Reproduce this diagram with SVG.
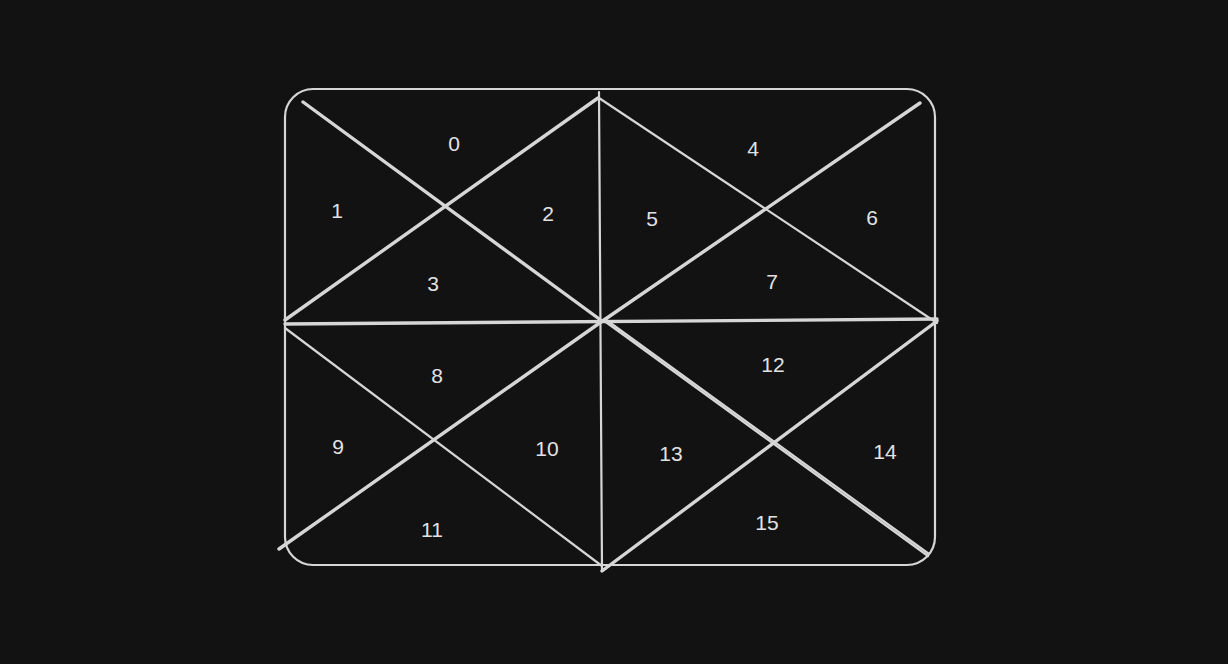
<svg xmlns="http://www.w3.org/2000/svg" width="1228" height="664" viewBox="0 0 1228 664">
<style>
.ln{stroke:#d6d6d6;stroke-width:2.2;stroke-linecap:round;fill:none}
.th{stroke-width:3.4}
.lb{font-family:"Liberation Sans",Arial,sans-serif;font-size:21px;fill:#e2e2e2;text-anchor:middle;dominant-baseline:central}
</style>
<rect width="1228" height="664" fill="#121212"/>
<g id="frame">
<rect x="285" y="89" width="650" height="476" rx="28" ry="28" class="ln"/>
</g>
<g id="connectors">
<line class="ln" x1="599" y1="92" x2="602" y2="571"/>
<line class="ln th" x1="285" y1="324" x2="937" y2="319"/>
<line class="ln th" x1="303" y1="102" x2="602" y2="321"/>
<line class="ln th" x1="285" y1="320" x2="598" y2="98"/>
<line class="ln" x1="599" y1="98" x2="937" y2="323"/>
<line class="ln th" x1="920" y1="103" x2="604" y2="320"/>
<line class="ln" x1="285" y1="328" x2="602" y2="566"/>
<line class="ln th" x1="279" y1="549" x2="601" y2="322"/>
<line class="ln" x1="603" y1="320" x2="928" y2="556"/>
<line class="ln" x1="605" y1="319" x2="929" y2="554"/>
<line class="ln th" x1="602" y1="571" x2="937" y2="321"/>
</g>
<g id="n0"><text class="lb" x="454" y="143">0</text></g>
<g id="n1"><text class="lb" x="337" y="210">1</text></g>
<g id="n2"><text class="lb" x="548" y="213">2</text></g>
<g id="n3"><text class="lb" x="433" y="283">3</text></g>
<g id="n4"><text class="lb" x="753" y="148">4</text></g>
<g id="n5"><text class="lb" x="652" y="218">5</text></g>
<g id="n6"><text class="lb" x="872" y="217">6</text></g>
<g id="n7"><text class="lb" x="772" y="281">7</text></g>
<g id="n8"><text class="lb" x="437" y="375">8</text></g>
<g id="n9"><text class="lb" x="338" y="446">9</text></g>
<g id="n10"><text class="lb" x="547" y="448">10</text></g>
<g id="n11"><text class="lb" x="432" y="529">11</text></g>
<g id="n12"><text class="lb" x="773" y="364">12</text></g>
<g id="n13"><text class="lb" x="671" y="453">13</text></g>
<g id="n14"><text class="lb" x="885" y="451">14</text></g>
<g id="n15"><text class="lb" x="767" y="522">15</text></g>
</svg>
